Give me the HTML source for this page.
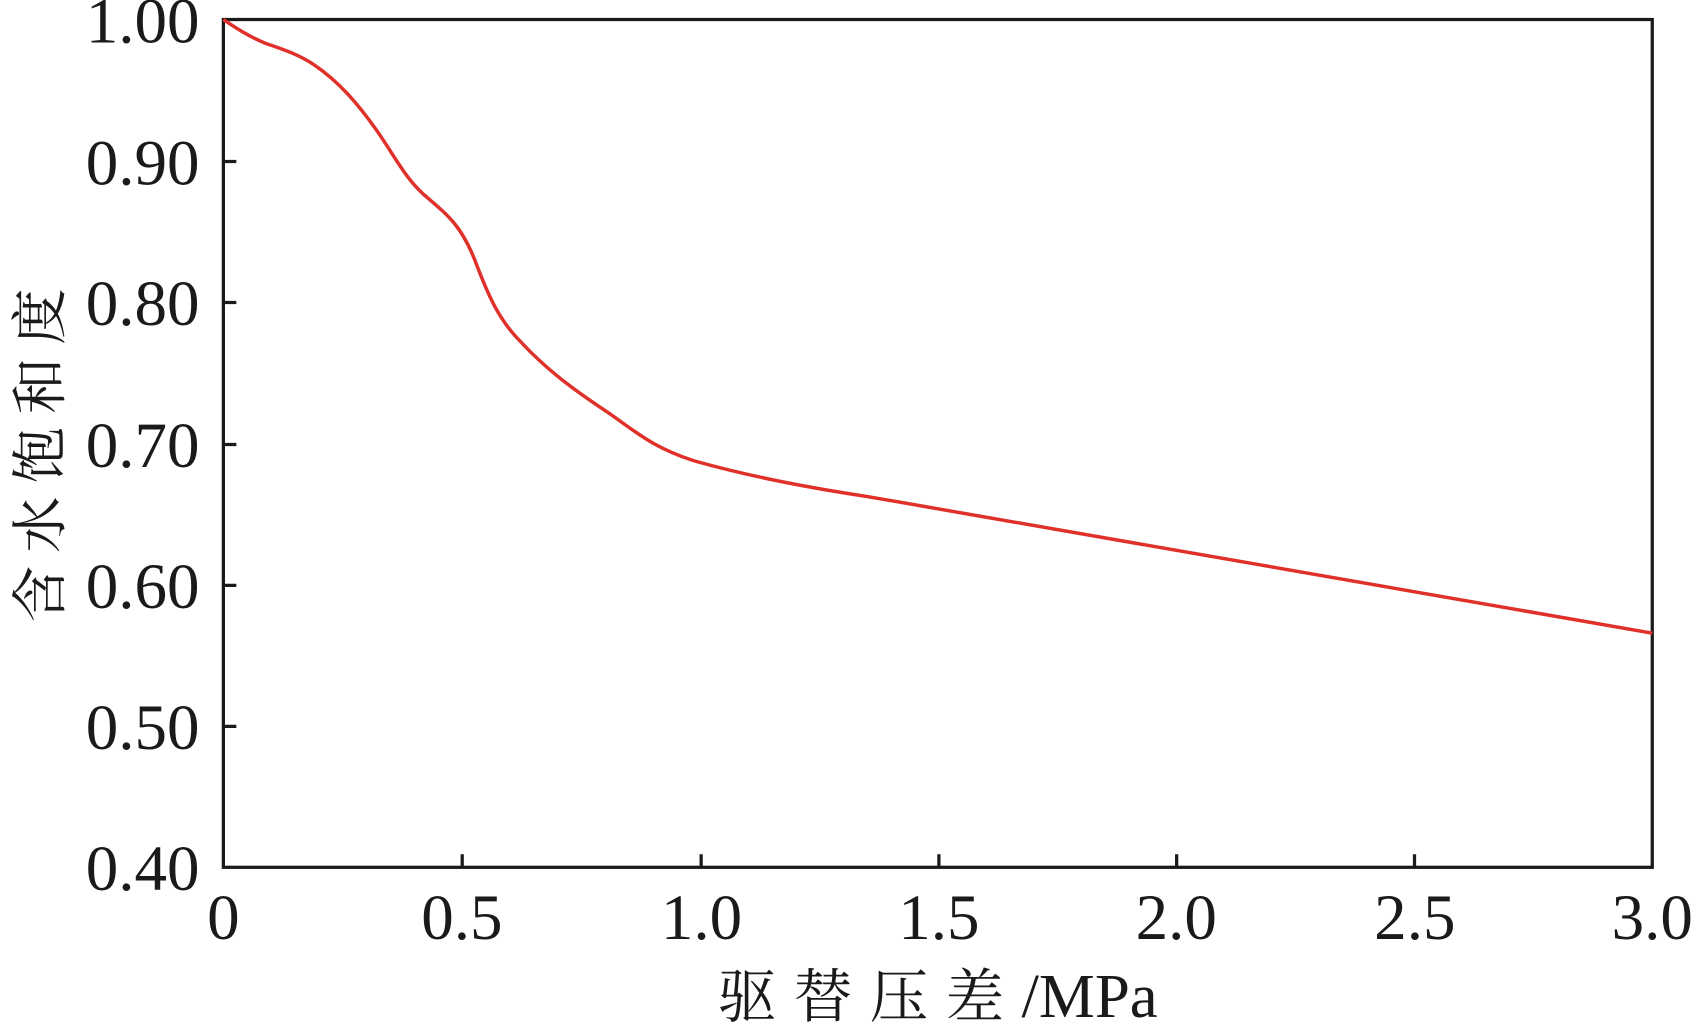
<!DOCTYPE html>
<html><head><meta charset="utf-8"><style>html,body{margin:0;padding:0;background:#fff;}svg{display:block}</style></head>
<body>
<svg width="1700" height="1027" viewBox="0 0 1568 947.3" xmlns="http://www.w3.org/2000/svg">
<rect width="1568" height="947.3" fill="#fff"/>
<g stroke="#1a1a1a" stroke-width="3" fill="none">
<rect x="206" y="18" width="1318" height="782"/>
<path d="M206 149h12M206 279h12M206 410h12M206 540h12M206 670h12"/>
<path d="M426.3 800v-12M646.7 800v-12M866 800v-12M1085.3 800v-12M1304.7 800v-12"/>
</g>
<path d="M206,18 C218,26 230,34 245,40 C262,46 275,50 290,60 C312,75 330,95 350,124 C365,146 376,168 395,183 C415,200 426,210 438,240 C450,272 460,295 480,315 C505,342 530,360 560,380 C585,397 600,412 640,425 C700,442 760,452 800,458 L1524,584" fill="none" stroke="#e0302a" stroke-width="3.2"/>
<g font-family="Liberation Serif, serif" font-size="60" fill="#1a1a1a" text-anchor="end">
<text x="184" y="39">1.00</text>
<text x="184" y="170">0.90</text>
<text x="184" y="300">0.80</text>
<text x="184" y="431">0.70</text>
<text x="184" y="561">0.60</text>
<text x="184" y="691">0.50</text>
<text x="184" y="821">0.40</text>
</g>
<g font-family="Liberation Serif, serif" font-size="60" fill="#1a1a1a" text-anchor="middle">
<text x="206" y="866">0</text>
<text x="426" y="866">0.5</text>
<text x="647" y="866">1.0</text>
<text x="866" y="866">1.5</text>
<text x="1085" y="866">2.0</text>
<text x="1305" y="866">2.5</text>
<text x="1524" y="866">3.0</text>
</g>
<text x="865" y="938" text-anchor="middle" font-family="Liberation Serif, 'Noto Serif CJK SC', serif" font-size="54" fill="#1a1a1a"><tspan letter-spacing="16">驱替压差</tspan><tspan font-size="58">/MPa</tspan></text>
<text transform="translate(55,414) rotate(-90)" text-anchor="middle" font-family="'Noto Serif CJK SC', serif" font-size="52" fill="#1a1a1a" letter-spacing="12">含水饱和度</text>
</svg>
</body></html>
